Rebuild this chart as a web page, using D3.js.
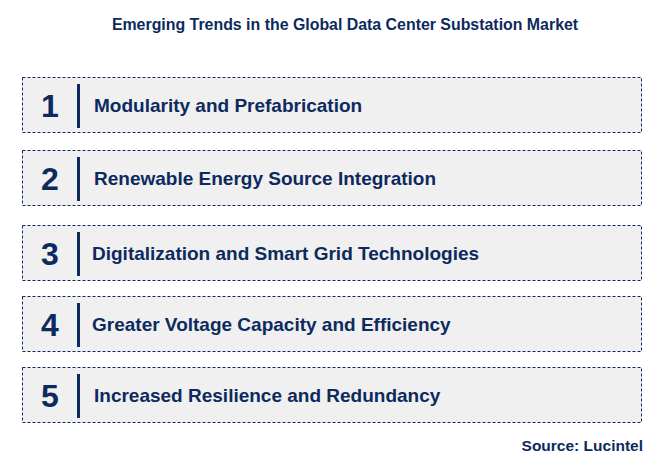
<!DOCTYPE html>
<html><head><meta charset="utf-8">
<script src="https://cdn.jsdelivr.net/npm/d3@7"></script>
<style>body{margin:0;background:#fff}</style></head>
<body><svg id="c" width="668" height="468"></svg>
<script>
const title = "Emerging Trends in the Global Data Center Substation Market";
const numbers = ["1","2","3","4","5"];
const trends = ["Modularity and Prefabrication","Renewable Energy Source Integration","Digitalization and Smart Grid Technologies","Greater Voltage Capacity and Efficiency","Increased Resilience and Redundancy"];
const boxTops = [77,150,225,296,367];
const source = "Source: Lucintel";
const navy = "#0d2a5e";
const svg = d3.select("#c");
const font = "Liberation Sans, Arial, sans-serif";
svg.append("text").attr("x",345).attr("y",30).attr("text-anchor","middle")
  .attr("font-family",font).attr("font-weight","bold").attr("font-size",15.9).attr("fill",navy).text(title);
const g = svg.selectAll("g.item").data(trends).join("g").attr("transform",(d,i)=>`translate(0,${boxTops[i]})`);
g.append("rect").attr("x",22.5).attr("y",0.5).attr("width",619).attr("height",55)
  .attr("fill","#f0f0f0").attr("stroke",navy).attr("stroke-width",1).attr("stroke-dasharray","3,2");
g.append("text").attr("x",50).attr("y",40).attr("text-anchor","middle").attr("font-family",font)
  .attr("font-weight","bold").attr("font-size",32).attr("fill",navy).text((d,i)=>numbers[i]);
g.append("rect").attr("x",77).attr("y",7).attr("width",3).attr("height",44).attr("fill",navy);
g.append("text").attr("x",(d,i)=>i==2||i==3?92:94).attr("y",35).attr("font-family",font)
  .attr("font-weight","bold").attr("font-size",19).attr("fill",navy).text(d=>d);
svg.append("text").attr("x",643).attr("y",451).attr("text-anchor","end").attr("font-family",font)
  .attr("font-weight","bold").attr("font-size",15.5).attr("fill",navy).text(source);
</script></body></html>
